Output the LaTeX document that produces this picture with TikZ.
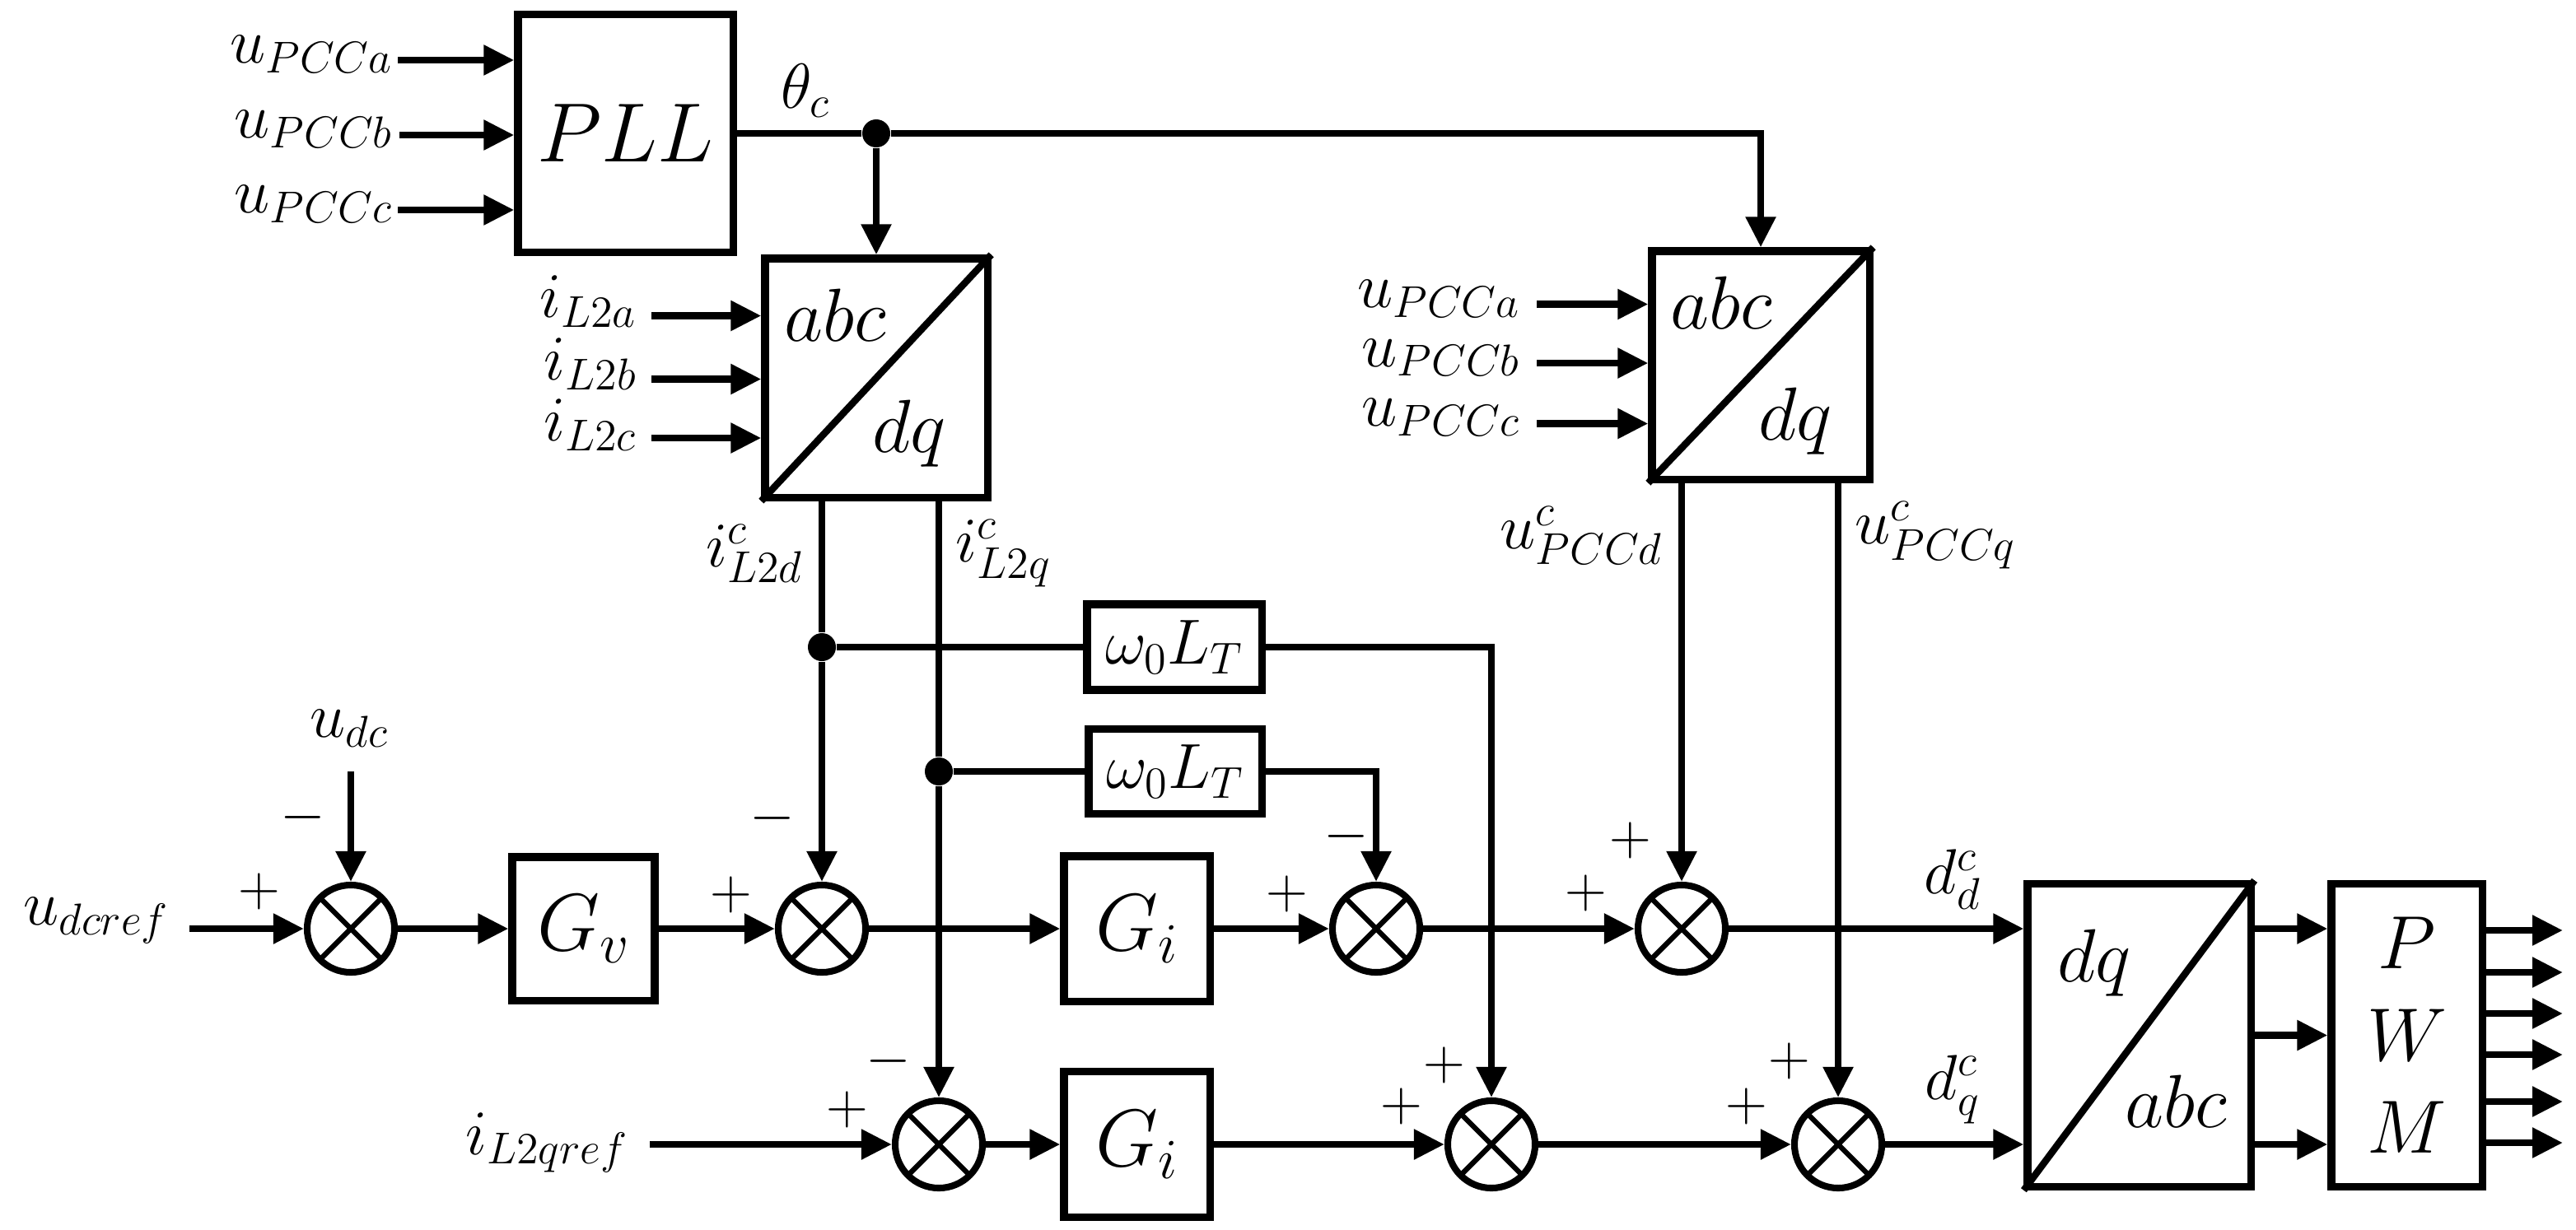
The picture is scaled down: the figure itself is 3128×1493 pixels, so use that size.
\RequirePackage{fix-cm}
\documentclass[tikz,border=0pt]{standalone}
\usetikzlibrary{arrows.meta}
\begin{document}
\begin{tikzpicture}[x=0.01cm,y=-0.01cm,
  box/.style={draw, rectangle, line width=2.6pt, inner sep=0pt},
  summer/.style={circle, draw, line width=2.3pt, minimum size=1.06cm, inner sep=0pt,
    path picture={\draw[line width=1.8pt] (path picture bounding box.north west) -- (path picture bounding box.south east)
      (path picture bounding box.north east) -- (path picture bounding box.south west);}},
  arr/.style={line width=2.4pt, -{Triangle[length=0.37cm,width=0.35cm]}},
  ln/.style={line width=2.4pt},
  dotn/.style={circle, fill, inner sep=0pt, minimum size=0.34cm},
  lab/.style={inner sep=0pt, font=\fontsize{22pt}{26pt}\selectfont},
  sgn/.style={inner sep=0pt, font=\fontsize{20pt}{24pt}\selectfont},
  bigtxt/.style={font=\fontsize{29pt}{34pt}\selectfont},
  gtxt/.style={font=\fontsize{28pt}{32pt}\selectfont},
  midtxt/.style={inner sep=0pt, font=\fontsize{26pt}{30pt}\selectfont},
]
\useasboundingbox (0,0) rectangle (3128,1493);

% blocks
\node[box, minimum width=2.61cm, minimum height=2.88cm, bigtxt] (PLL) at (759.5,162) {$PLL$};
\node[box, minimum width=2.70cm, minimum height=2.90cm] (T1) at (1064,459) {};
\draw[line width=2.4pt] (T1.south west) -- (T1.north east);
\node[midtxt] (T1a) at (1014,383) {$abc$};
\node[midtxt] (T1b) at (1104,527) {$dq$};
\node[box, minimum width=2.64cm, minimum height=2.77cm] (T2) at (2138,443.5) {};
\draw[line width=2.4pt] (T2.south west) -- (T2.north east);
\node[midtxt] (T2a) at (2090,368) {$abc$};
\node[midtxt] (T2b) at (2180,512) {$dq$};

\node[box, minimum width=1.73cm, minimum height=1.74cm, gtxt] (Gv) at (708.5,1128) {$G_v$};
\node[box, minimum width=1.77cm, minimum height=1.76cm, gtxt] (Gi1) at (1380.5,1128) {$G_i$};
\node[box, minimum width=1.77cm, minimum height=1.77cm, gtxt] (Gi2) at (1380.5,1390) {$G_i$};
\node[box, minimum width=2.12cm, minimum height=1.04cm, lab] (W1) at (1426,786) {$\omega_0 L_T$};
\node[box, minimum width=2.10cm, minimum height=1.03cm, lab] (W2) at (1427,937) {$\omega_0 L_T$};

\node[box, minimum width=2.71cm, minimum height=3.67cm] (DA) at (2597.5,1257.5) {};
\draw[line width=2.4pt] (DA.south west) -- (DA.north east);
\node[midtxt] (DAa) at (2543,1170) {$dq$};
\node[midtxt] (DAb) at (2642,1338) {$abc$};
\node[box, minimum width=1.83cm, minimum height=3.67cm, align=center,
  font=\fontsize{26pt}{31.9pt}\selectfont] (PWM) at (2922.5,1257.5) {$P$\\$W$\\$M$};

% summers
\node[summer] (S1) at (426,1128) {};
\node[summer] (S2) at (998,1128) {};
\node[summer] (S3) at (1671,1128) {};
\node[summer] (S4) at (2042,1128) {};
\node[summer] (S5) at (1140,1390) {};
\node[summer] (S6) at (1811,1390) {};
\node[summer] (S7) at (2232,1390) {};

% dots
\node[dotn] (D0) at (1064,162) {};
\node[dotn] (D1) at (998,786) {};
\node[dotn] (D2) at (1140,937) {};

% PLL inputs
\node[lab, anchor=east] (pa) at (478,66) {$u_{PCCa}$};
\node[lab, anchor=east] (pb) at (478,157) {$u_{PCCb}$};
\node[lab, anchor=east] (pc) at (478,248) {$u_{PCCc}$};
\coordinate (pa0) at (483,73);
\coordinate (pb0) at (485,164);
\coordinate (pc0) at (483,255);
\draw[arr] (pa0) -- (pa0 -| PLL.west);
\draw[arr] (pb0) -- (pb0 -| PLL.west);
\draw[arr] (pc0) -- (pc0 -| PLL.west);

% theta
\node[lab] (th) at (978,110) {$\theta_c$};
\draw[ln] (PLL.east) -- (D0);
\draw[arr] (D0) -| (T2.north);
\draw[arr] (D0) -- (D0 |- T1.north);

% box1 inputs
\node[lab, anchor=east] (ia) at (774,366) {$i_{L2a}$};
\node[lab, anchor=east] (ib) at (774,442) {$i_{L2b}$};
\node[lab, anchor=east] (ic) at (774,516) {$i_{L2c}$};
\coordinate (ia0) at (791,383.5);
\coordinate (ib0) at (791,460.5);
\coordinate (ic0) at (791,532);
\draw[arr] (ia0) -- (ia0 -| T1.west);
\draw[arr] (ib0) -- (ib0 -| T1.west);
\draw[arr] (ic0) -- (ic0 -| T1.west);

% box2 inputs
\node[lab, anchor=east] (qa) at (1847,363) {$u_{PCCa}$};
\node[lab, anchor=east] (qb) at (1847,434.5) {$u_{PCCb}$};
\node[lab, anchor=east] (qc) at (1847,507) {$u_{PCCc}$};
\coordinate (qa0) at (1866,369.5);
\coordinate (qb0) at (1866,441);
\coordinate (qc0) at (1866,514.5);
\draw[arr] (qa0) -- (qa0 -| T2.west);
\draw[arr] (qb0) -- (qb0 -| T2.west);
\draw[arr] (qc0) -- (qc0 -| T2.west);

% box1 outputs
\node[lab, anchor=east] (ild) at (976,672) {$i^{c}_{L2d}$};
\node[lab, anchor=west] (ilq) at (1160,672) {$i^{c}_{L2q}$};
\draw[ln] (T1.south -| D1) -- (D1);
\draw[arr] (D1) -- (S2.north);
\draw[ln] (T1.south -| D2) -- (D2);
\draw[arr] (D2) -- (S5.north);
\draw[ln] (D1) -- (W1.west);
\draw[arr] (W1.east) -| (S6.north);
\draw[ln] (D2) -- (W2.west);
\draw[arr] (W2.east) -| (S3.north);

% box2 outputs
\node[lab, anchor=east] (upd) at (2020,650) {$u^{c}_{PCCd}$};
\node[lab, anchor=west] (upq) at (2252,650) {$u^{c}_{PCCq}$};
\draw[arr] (T2.south -| S4) -- (S4.north);
\draw[arr] (T2.south -| S7) -- (S7.north);

% d row
\node[lab] (udcref) at (117,1118) {$u_{dcref}$};
\coordinate (udcref0) at (230,1128);
\draw[arr] (udcref0) -- (S1.west);
\node[lab] (udc) at (424,885) {$u_{dc}$};
\coordinate (udc0) at (426,937);
\draw[arr] (udc0) -- (S1.north);
\draw[arr] (S1.east) -- (Gv.west);
\draw[arr] (Gv.east) -- (S2.west);
\draw[arr] (S2.east) -- (Gi1.west);
\draw[arr] (Gi1.east) -- (S3.west);
\draw[arr] (S3.east) -- (S4.west);
\draw[arr] (S4.east) -- (DA.west |- S4.east);
\node[lab] (ddd) at (2371,1068) {$d^{c}_{d}$};

% q row
\node[lab] (iqref) at (664,1388) {$i_{L2qref}$};
\coordinate (iqref0) at (789,1390);
\draw[arr] (iqref0) -- (S5.west);
\draw[arr] (S5.east) -- (Gi2.west);
\draw[arr] (Gi2.east) -- (S6.west);
\draw[arr] (S6.east) -- (S7.west);
\draw[arr] (S7.east) -- (DA.west |- S7.east);
\node[lab] (ddq) at (2371,1323) {$d^{c}_{q}$};

% dq/abc to PWM
\draw[arr] (DA.east |- S4.east) -- (PWM.west |- S4.east);
\draw[arr] (DA.east) -- (PWM.west);
\draw[arr] (DA.east |- S7.east) -- (PWM.west |- S7.east);

% PWM outputs
\foreach \k/\yy in {1/1130,2/1181,3/1231,4/1281,5/1338,6/1388}{
  \coordinate (o\k) at (3112,\yy);
  \draw[arr] (PWM.east |- o\k) -- (o\k);
}

% signs
\node[sgn] at (315,1083) {$+$};
\node[sgn] at (368,993) {$-$};
\node[sgn] at (888,1087) {$+$};
\node[sgn] at (938,994) {$-$};
\node[sgn] at (1563,1086) {$+$};
\node[sgn] at (1635,1016) {$-$};
\node[sgn] at (1926,1085) {$+$};
\node[sgn] at (1980,1021) {$+$};
\node[sgn] at (1029,1348) {$+$};
\node[sgn] at (1079,1289) {$-$};
\node[sgn] at (1702,1344) {$+$};
\node[sgn] at (1754,1294) {$+$};
\node[sgn] at (2121,1344) {$+$};
\node[sgn] at (2173,1289) {$+$};
\end{tikzpicture}
\end{document}
